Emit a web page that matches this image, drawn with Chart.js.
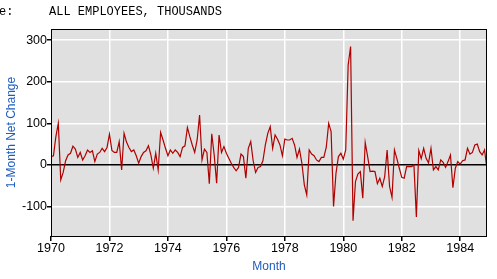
<!DOCTYPE html>
<html>
<head>
<meta charset="utf-8">
<script src="https://cdn.jsdelivr.net/npm/chart.js@4/dist/chart.umd.min.js"></script>
<style>
  html, body { margin: 0; padding: 0; background: #fff; overflow: hidden; }
  #wrap { position: relative; width: 497px; height: 279px; }
  canvas { position: absolute; left: 0; top: 0; }
  .hdr { position: absolute; font-family: "Liberation Mono", "DejaVu Sans Mono", monospace; font-size: 12px; color: #000; white-space: pre; line-height: 12px; z-index: 2; }
</style>
</head>
<body>
<div id="wrap">
  <canvas id="c" width="497" height="279"></canvas>
  <div class="hdr" style="left:-1px; top:-9px;">d:</div>
  <div class="hdr" style="left:-1px; top:6px;">e:</div>
  <div class="hdr" style="left:49px; top:6px;">ALL EMPLOYEES, THOUSANDS</div>
</div>
<script>
// 1-month net change, all employees (thousands), monthly Jan..Dec
const y1970 = [20, 22, 68, 100, -36, -18, 10, 24, 28, 45, 38, 18];
const y1971 = [30, 12, 22, 36, 30, 34, 8, 26, 30, 40, 32, 42];
const y1972 = [74, 35, 30, 30, 56, -12, 76, 55, 42, 32, 36, 22];
const y1973 = [4, 20, 30, 34, 46, 24, -8, 28, -12, 78, 60, 40];
const y1974 = [22, 36, 28, 36, 30, 20, 42, 46, 90, 68, 48, 30];
const y1975 = [60, 120, 12, 38, 30, -45, 75, 24, -44, 72, 30, 44];
const y1976 = [28, 16, 4, -6, -14, -6, 26, 20, -32, 40, 56, 10];
const y1977 = [-18, -6, -4, 10, 48, 76, 92, 40, 72, 62, 48, 22];
const y1978 = [62, 60, 60, 64, 48, 18, 38, 4, -48, -72, 36, 26];
const y1979 = [22, 12, 8, 18, 18, 42, 100, 80, -100, -20, 20, 28];
const y1980 = [14, 36, 240, 285, -134, -40, -22, -16, -80, 54, 20, -16];
const y1981 = [-15, -16, -45, -32, -52, -28, 36, -52, -78, 36, 15, -8];
const y1982 = [-30, -32, -4, -4, -4, 0, -125, 35, 15, 40, 16, 5];
const y1983 = [40, -12, -4, -12, 12, 6, -6, 8, 24, -55, -8, 8];
const y1984 = [2, 10, 12, 40, 26, 30, 48, 50, 32, 24, 36, -12];

const years = [1970, 1971, 1972, 1973, 1974, 1975, 1976, 1977, 1978, 1979, 1980, 1981, 1982, 1983, 1984];
const yearValues = [y1970, y1971, y1972, y1973, y1974, y1975, y1976, y1977, y1978, y1979, y1980, y1981, y1982, y1983, y1984];
const xTicks = [1970, 1972, 1974, 1976, 1978, 1980, 1982, 1984];
const yTicks = [-100, 0, 100, 200, 300];

const points = [];
years.forEach((yr, k) => {
  yearValues[k].forEach((v, m) => points.push({ x: yr + m / 12, y: v }));
});

const plotFrame = {
  id: 'plotFrame',
  beforeDraw(chart) {
    const a = chart.chartArea, c = chart.ctx;
    c.save();
    c.fillStyle = '#e0e0e0';
    c.fillRect(a.left, a.top, a.right - a.left, a.bottom - a.top);
    c.restore();
  },
  afterDraw(chart) {
    const a = chart.chartArea, c = chart.ctx;
    c.save();
    c.strokeStyle = '#000';
    c.lineWidth = 1;
    c.strokeRect(Math.round(a.left) + 0.5, Math.round(a.top) + 0.5,
                 Math.round(a.right - a.left) - 1, Math.round(a.bottom - a.top));
    c.restore();
  }
};

new Chart(document.getElementById('c'), {
  type: 'line',
  data: {
    datasets: [{
      data: points,
      borderColor: '#b00000',
      borderWidth: 1.2,
      pointRadius: 0,
      tension: 0,
      fill: false
    }]
  },
  options: {
    responsive: false,
    animation: false,
    devicePixelRatio: 1,
    layout: { padding: { top: 29, right: 10, left: 0, bottom: 0 } },
    plugins: { legend: { display: false }, tooltip: { enabled: false } },
    scales: {
      x: {
        type: 'linear',
        min: 1970,
        max: 1970 + 179 / 12,
        afterBuildTicks: s => { s.ticks = xTicks.map(v => ({ value: v })); },
        afterFit: s => { s.height = 43; },
        grid: { color: '#ffffff', lineWidth: 1.5, tickColor: '#000', tickLength: 5, drawTicks: true },
        border: { display: false },
        ticks: {
          color: '#000', padding: 0, maxRotation: 0, autoSkip: false,
          font: { family: 'Liberation Sans', size: 12.5 },
          callback: v => String(v)
        },
        title: {
          display: true, text: 'Month', color: '#1f5cc0',
          font: { family: 'Liberation Sans', size: 12 },
          padding: { top: 0, bottom: 5 }
        }
      },
      y: {
        min: -171,
        max: 327,
        afterBuildTicks: s => { s.ticks = yTicks.map(v => ({ value: v })); },
        afterFit: s => { s.width = 51; },
        grid: {
          color: c => (c.tick && c.tick.value === 0) ? '#000000' : '#ffffff',
          lineWidth: 1.5,
          tickColor: '#000', tickLength: 4, drawTicks: true
        },
        border: { display: false },
        ticks: {
          color: '#000', padding: 0,
          font: { family: 'Liberation Sans', size: 12.5 },
          callback: v => String(v)
        },
        title: {
          display: true, text: '1-Month Net Change', color: '#1f5cc0',
          font: { family: 'Liberation Sans', size: 12 },
          padding: { top: 4, bottom: 0 }
        }
      }
    }
  },
  plugins: [plotFrame]
});
</script>
</body>
</html>
